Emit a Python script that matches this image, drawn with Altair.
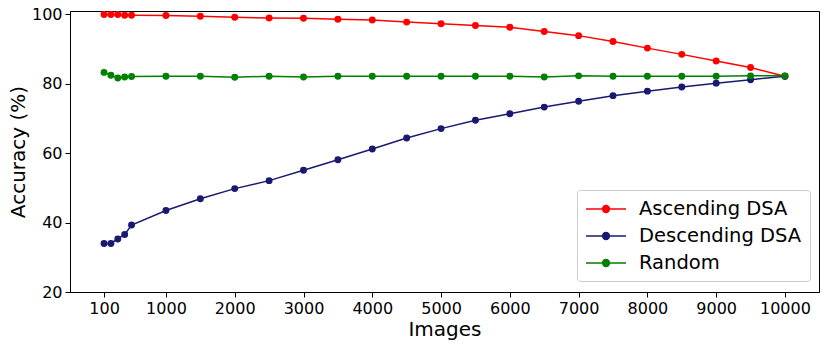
import altair as alt
import pandas as pd

images = [100, 200, 300, 400, 500, 1000, 1500, 2000, 2500, 3000, 3500, 4000, 4500,
          5000, 5500, 6000, 6500, 7000, 7500, 8000, 8500, 9000, 9500, 10000]

ascending = [100.0, 100.0, 100.0, 99.8, 99.8, 99.7, 99.5, 99.2, 99.0, 98.9, 98.6, 98.4, 97.8,
             97.3, 96.8, 96.3, 95.1, 93.9, 92.2, 90.3, 88.5, 86.6, 84.7, 82.2]
descending = [34.0, 34.0, 35.3, 36.6, 39.3, 43.5, 46.9, 49.8, 52.1, 55.1, 58.1, 61.2, 64.4,
              67.1, 69.5, 71.4, 73.3, 75.0, 76.6, 77.9, 79.1, 80.2, 81.2, 82.2]
random_ = [83.3, 82.5, 81.7, 82.0, 82.1, 82.2, 82.2, 81.9, 82.2, 82.0, 82.2, 82.2, 82.2,
           82.2, 82.2, 82.2, 82.0, 82.3, 82.2, 82.2, 82.2, 82.2, 82.3, 82.3]

series_names = ["Ascending DSA", "Descending DSA", "Random"]
series_colors = ["#ff0000", "#191970", "#008000"]
x_ticks = [100, 1000, 2000, 3000, 4000, 5000, 6000, 7000, 8000, 9000, 10000]
y_ticks = [20, 40, 60, 80, 100]

rows = []
for name, vals in zip(series_names, [ascending, descending, random_]):
    for x, v in zip(images, vals):
        rows.append({"Images": x, "Accuracy": v, "Series": name})
df = pd.DataFrame(rows)

FONT = "DejaVu Sans"

legend_path = "M-2,0H2M-0.34,0A0.34,0.34 0 1,0 0.34,0A0.34,0.34 0 1,0 -0.34,0Z"

color = alt.Color(
    "Series:N",
    scale=alt.Scale(domain=series_names, range=series_colors),
    legend=alt.Legend(
        title=None,
        orient="none",
        legendX=507,
        legendY=179,
        symbolType=legend_path,
        symbolSize=400,
        symbolStrokeWidth=1.5,
        symbolOffset=10,
        labelOffset=22,
        labelFont=FONT,
        labelFontSize=19.5,
        labelColor="black",
        labelLimit=400,
        rowPadding=6,
        padding=8,
        strokeColor="#cccccc",
        fillColor="white",
        cornerRadius=3,
    ),
)

x = alt.X(
    "Images:Q",
    scale=alt.Scale(domain=[-395, 10495], nice=False, zero=False),
    axis=alt.Axis(values=x_ticks, format="d", title="Images", grid=False),
)
y = alt.Y(
    "Accuracy:Q",
    scale=alt.Scale(domain=[20, 101], nice=False, zero=False),
    axis=alt.Axis(values=y_ticks, title="Accuracy (%)", grid=False),
)

chart = (
    alt.Chart(df)
    .mark_line(strokeWidth=1.5, point=alt.OverlayMarkDef(filled=True, size=48, opacity=1))
    .encode(x=x, y=y, color=color, order=alt.Order("Images:Q"))
    .properties(
        width=749,
        height=281,
        autosize=alt.AutoSizeParams(type="none"),
        padding={"left": 62, "top": 3, "right": 4, "bottom": 54},
    )
    .configure_view(stroke="black", strokeWidth=1)
    .configure_axis(
        labelFont=FONT,
        labelFontSize=16,
        labelColor="black",
        titleFont=FONT,
        titleFontSize=20,
        titleFontWeight="normal",
        titleColor="black",
        domainColor="black",
        tickColor="black",
        tickSize=5,
        labelPadding=3,
    )
    .configure_axisX(titlePadding=3)
    .configure_axisY(titlePadding=3)
)

chart.save("out.html", embed_options={"renderer": "svg", "actions": False})
